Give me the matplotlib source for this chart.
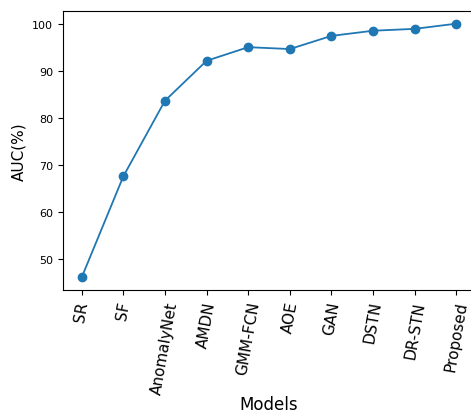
import matplotlib
matplotlib.use('Agg')
import matplotlib.pyplot as plt

models = ["SR", "SF", "AnomalyNet", "AMDN", "GMM-FCN", "AOE", "GAN", "DSTN", "DR-STN", "Proposed"]
auc = [46.0, 67.5, 83.6, 92.1, 95.0, 94.6, 97.4, 98.5, 98.9, 100.0]

fig = plt.figure(figsize=(4.71, 4.14), dpi=100)
ax = fig.add_axes([63/471, 123/414, 412/471, 279/414])
ax.plot(models, auc, marker='o', markersize=6, linewidth=1.3, color='tab:blue')
ax.set_xlabel("Models", fontsize=12, labelpad=0)
ax.set_ylabel("AUC(%)", fontsize=11)
ax.tick_params(axis='y', labelsize=8)
plt.xticks(rotation=80, fontsize=11)
fig.savefig('out.png', dpi=100)
